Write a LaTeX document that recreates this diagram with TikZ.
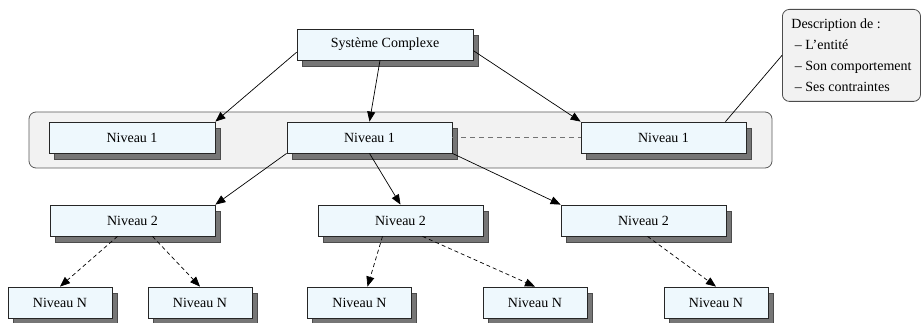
\documentclass[tikz,border=0pt]{standalone}
\usepackage{fontspec}
\setmainfont{Liberation Serif}
\usepackage{xcolor}
\usepackage{tikz}
\usetikzlibrary{arrows.meta}
\usetikzlibrary{shadows}
\usetikzlibrary{positioning}

\definecolor{boxfill}{HTML}{EEF8FD}
\definecolor{shadowgray}{HTML}{767676}
\definecolor{groupfill}{HTML}{F2F2F2}

\tikzset{
	niveau/.style={rectangle,draw=black!85,line width=0.8pt,fill=boxfill,
		minimum height=31pt,inner sep=2pt,font=\fontsize{14}{16}\selectfont,
		drop shadow={shadow xshift=5pt,shadow yshift=-6pt,fill=shadowgray,
			draw=black!70,opacity=1}},
	fleche/.style={-{Triangle[length=10pt,width=8pt]},line width=0.7pt,black},
	pointille/.style={fleche,dashed,dash pattern=on 4pt off 3pt},
}

\begin{document}
\begin{tikzpicture}[x=1pt,y=-1pt]
		\useasboundingbox (0,0) rectangle (921,323);
		% groupe du niveau 1
		\draw[draw=black!65,line width=0.8pt,fill=groupfill,rounded corners=7pt] (29,112) rectangle (772,168);
		% boites
		\node[niveau,minimum width=176pt] (sys) at (385,44.5) {Système Complexe};
		\node[niveau,minimum width=166pt] (n1a) at (132,137.5) {Niveau 1};
		\node[niveau,minimum width=165pt] (n1b) at (369.5,137.5) {Niveau 1};
		\node[niveau,minimum width=165pt] (n1c) at (663.5,137.5) {Niveau 1};
			\node[niveau,minimum width=165pt] (n2a) at (132.5,220.5) {Niveau 2};
			\node[niveau,minimum width=165pt] (n2b) at (400.5,220.5) {Niveau 2};
			\node[niveau,minimum width=165pt] (n2c) at (643.5,220.5) {Niveau 2};
				\node[niveau,minimum width=104pt] (nna) at (60,302.5) {Niveau N};
				\node[niveau,minimum width=104pt] (nnb) at (200,302.5) {Niveau N};
				\node[niveau,minimum width=104pt] (nnc) at (359.5,302.5) {Niveau N};
				\node[niveau,minimum width=104pt] (nnd) at (535,302.5) {Niveau N};
				\node[niveau,minimum width=104pt] (nne) at (716,302.5) {Niveau N};
		% description
		\node[draw=black!70,line width=0.8pt,fill=groupfill,rounded corners=7pt,anchor=north west,
			minimum width=138pt,minimum height=92pt,align=left,inner xsep=9pt,
			font=\fontsize{14}{21}\selectfont] (desc) at (782,9)
			{Description de :\\ \ – L'entité\\ \ – Son comportement\\ \ – Ses contraintes};
		\draw[line width=0.7pt] (desc.west) -- ([xshift=62pt]n1c.north);
		% liens
		\draw[fleche] (sys.185) -- (n1a.north east);
		\draw[fleche] ([xshift=-5pt]sys.south) -- (n1b.north);
		\draw[fleche] (sys.356) -- (n1c.north west);
		\draw[draw=black!55,line width=1.2pt,dashed,dash pattern=on 5pt off 4pt] (n1b.east) -- (n1c.west);
			\draw[fleche] (n1b.south west) -- (n2a.north east);
			\draw[fleche] (n1b.south) -- (n2b.north);
			\draw[fleche] (n1b.south east) -- (n2c.north west);
				\draw[pointille] ([xshift=-15pt]n2a.south) -- (nna.north);
				\draw[pointille] ([xshift=20pt]n2a.south) -- (nnb.north);
				\draw[pointille] ([xshift=-18pt]n2b.south) -- ([xshift=8pt]nnc.north);
				\draw[pointille] ([xshift=22pt]n2b.south) -- (nnd.north);
				\draw[pointille] ([xshift=4pt]n2c.south) -- (nne.north);
	\end{tikzpicture}
\end{document}
